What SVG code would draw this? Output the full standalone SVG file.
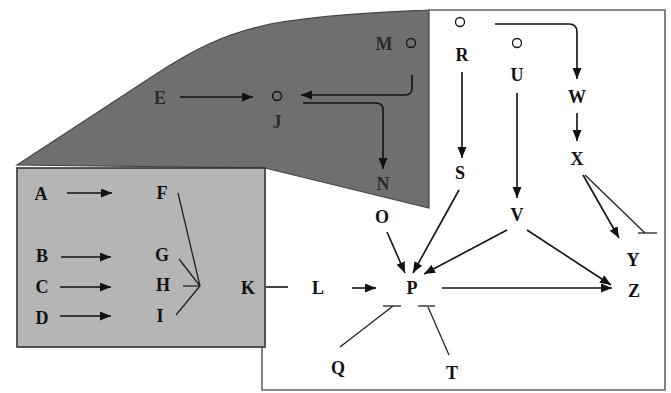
<svg xmlns="http://www.w3.org/2000/svg" width="671" height="393" viewBox="0 0 671 393">
<style>
text{font-family:"Liberation Serif","Times New Roman",serif;font-weight:bold;font-size:18px;fill:#111;text-anchor:middle;dominant-baseline:central}
.dk{fill:#2a2a2a}
.ln{stroke:#111;stroke-width:1.6;fill:none}
.ar{stroke:#111;stroke-width:1.6;fill:none;marker-end:url(#ah)}
.inh{stroke:#222;stroke-width:1.3;fill:none}
.circ{fill:none;stroke:#111;stroke-width:1.3}
</style>
<defs>
<marker id="ah" markerUnits="userSpaceOnUse" markerWidth="12" markerHeight="10" refX="11" refY="4.5" orient="auto">
<path d="M0,0 L11,4.5 L0,9 Z" fill="#111"/>
</marker>
</defs>
<rect width="671" height="393" fill="#fff"/>
<g id="regions">
<path d="M429,10 H665 V390 H262 V200" fill="none" stroke="#666" stroke-width="1.6"/>
<path d="M17,165 L150,78 C195,48 225,34 270,24 C330,14 390,12 429,10 L429,208 L265,168 Z" fill="#6f6f6f" stroke="#444" stroke-width="1.2"/>
<rect x="17" y="168" width="248" height="179" fill="#b5b5b5" stroke="#333" stroke-width="1.6"/>
</g>
<g id="connectors">
<line class="ar" x1="180" y1="97" x2="253" y2="97"/>
<path class="ar" d="M412,75 V88 Q412,95 405,95 H301"/>
<path class="ar" d="M303,103 H376 Q383,103 383,110 V169"/>
<line class="ar" x1="67" y1="193" x2="112" y2="193"/>
<line class="ar" x1="61" y1="257" x2="111" y2="257"/>
<line class="ar" x1="60" y1="287" x2="111" y2="287"/>
<line class="ar" x1="60" y1="316" x2="111" y2="316"/>
<line class="inh" x1="178" y1="193" x2="200" y2="286"/>
<line class="inh" x1="179" y1="259" x2="200" y2="286"/>
<line class="inh" x1="183" y1="286" x2="200" y2="286"/>
<line class="inh" x1="176" y1="315" x2="200" y2="286"/>
<line class="ln" x1="266" y1="287" x2="288" y2="287"/>
<line class="ar" x1="352" y1="288" x2="376" y2="288"/>
<line class="ar" x1="387" y1="232" x2="405" y2="273"/>
<line class="ar" x1="459" y1="190" x2="413" y2="273"/>
<line class="ar" x1="507" y1="230" x2="424" y2="274"/>
<line class="ar" x1="527" y1="230" x2="611" y2="285"/>
<line class="ar" x1="442" y1="288" x2="612" y2="288"/>
<line class="inh" x1="340" y1="347" x2="393" y2="306"/>
<line class="inh" x1="383" y1="306" x2="401" y2="306"/>
<line class="inh" x1="449" y1="355" x2="428" y2="307"/>
<line class="inh" x1="418" y1="306" x2="435" y2="306"/>
<line class="ar" x1="462" y1="72" x2="462" y2="158"/>
<line class="ar" x1="517" y1="93" x2="517" y2="198"/>
<path class="ar" d="M495,24 H569 Q577,24 577,32 V79"/>
<line class="ar" x1="577" y1="113" x2="577" y2="141"/>
<line class="ar" x1="583" y1="175" x2="619" y2="238"/>
<line class="inh" x1="585" y1="175" x2="645" y2="233"/>
<line class="inh" x1="638" y1="233" x2="657" y2="233"/>
</g>
<g id="node-M"><text class="dk" x="384" y="44">M</text><circle class="circ" cx="411" cy="43" r="4.5"/></g>
<g id="node-E"><text class="dk" x="160" y="98">E</text></g>
<g id="node-J"><circle class="circ" cx="277" cy="96" r="4.5"/><text class="dk" x="277" y="122">J</text></g>
<g id="node-N"><text class="dk" x="383" y="184">N</text></g>
<g id="node-A"><text x="41" y="194">A</text></g>
<g id="node-B"><text x="42" y="256">B</text></g>
<g id="node-C"><text x="42" y="287">C</text></g>
<g id="node-D"><text x="42" y="318">D</text></g>
<g id="node-F"><text x="162" y="193">F</text></g>
<g id="node-G"><text x="162" y="255">G</text></g>
<g id="node-H"><text x="163" y="285">H</text></g>
<g id="node-I"><text x="160" y="316">I</text></g>
<g id="node-K"><text x="248" y="288">K</text></g>
<g id="node-L"><text x="318" y="288">L</text></g>
<g id="node-P"><text x="412" y="288">P</text></g>
<g id="node-O"><text x="382" y="217">O</text></g>
<g id="node-S"><text x="460" y="173">S</text></g>
<g id="node-V"><text x="517" y="215">V</text></g>
<g id="node-Q"><text x="338" y="368">Q</text></g>
<g id="node-T"><text x="452" y="373">T</text></g>
<g id="node-R"><circle class="circ" cx="460" cy="22" r="4.5"/><text x="462" y="55">R</text></g>
<g id="node-U"><circle class="circ" cx="517" cy="43" r="4.5"/><text x="517" y="75">U</text></g>
<g id="node-W"><text x="577" y="97">W</text></g>
<g id="node-X"><text x="577" y="159">X</text></g>
<g id="node-Y"><text x="633" y="260">Y</text></g>
<g id="node-Z"><text x="634" y="291">Z</text></g>
</svg>
